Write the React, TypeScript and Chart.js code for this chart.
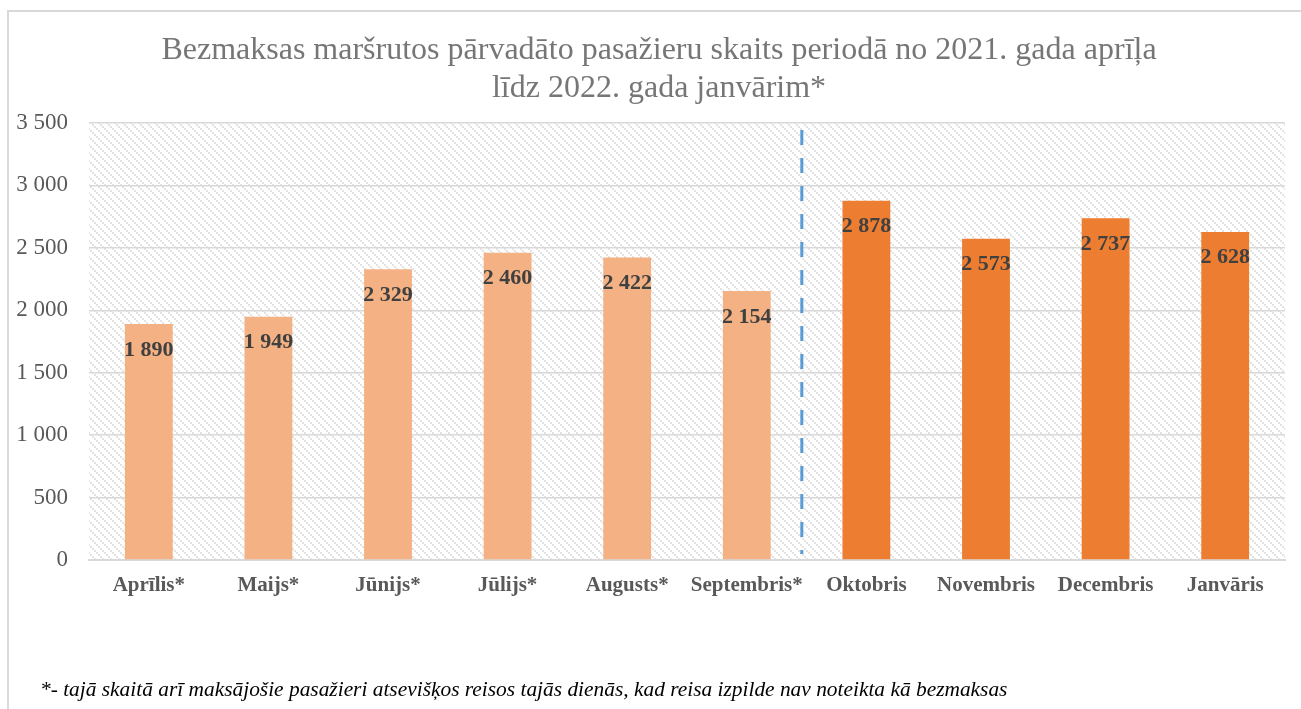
import React, { useEffect, useRef } from 'react';
import { Chart, registerables } from 'chart.js';

Chart.register(...registerables);

// ---------- data ----------
const categories: string[] = [
  'Aprīlis*', 'Maijs*', 'Jūnijs*', 'Jūlijs*', 'Augusts*',
  'Septembris*', 'Oktobris', 'Novembris', 'Decembris', 'Janvāris',
];
const passengers: number[] = [1890, 1949, 2329, 2460, 2422, 2154, 2878, 2573, 2737, 2628];
const partialMonth: boolean[] = [true, true, true, true, true, true, false, false, false, false];
const yMin = 0;
const yMax = 3500;
const yStep = 500;
const titleLines: string[] = [
  'Bezmaksas maršrutos pārvadāto pasažieru skaits periodā no 2021. gada aprīļa',
  'līdz 2022. gada janvārim*',
];
const footnote =
  '*- tajā skaitā arī maksājošie pasažieri atsevišķos reisos tajās dienās, kad reisa izpilde nav noteikta kā bezmaksas';
// divider between the partial months and the full months (category units)
const dividerPosition = 5.46;

// ---------- styles ----------
const SERIF = "'Liberation Serif', 'Times New Roman', serif";
const LIGHT_ORANGE = '#F4B183';
const ORANGE = '#ED7D31';
const GRID = '#d9d9d9';
const AXIS_TEXT = '#595959';

function fmt(n: number): string {
  return String(n).replace(/\B(?=(\d{3})+(?!\d))/g, ' ');
}

function makePattern(ctx: CanvasRenderingContext2D): CanvasPattern | string {
  const tile = document.createElement('canvas');
  tile.width = 8;
  tile.height = 8;
  const t = tile.getContext('2d');
  if (!t) return '#f4f4f4';
  t.fillStyle = '#ffffff';
  t.fillRect(0, 0, 8, 8);
  t.fillStyle = '#e3e3e3';
  for (let y = 0; y < 8; y += 2) {
    t.fillRect(y, y, 2, 2);
  }
  return ctx.createPattern(tile, 'repeat') || '#f4f4f4';
}

const backgroundPlugin = {
  id: 'bgPlugin',
  beforeDraw(chart: any) {
    const { ctx, chartArea } = chart;
    ctx.save();
    ctx.fillStyle = '#ffffff';
    ctx.fillRect(0, 0, chart.width, chart.height);
    // outer frame
    ctx.strokeStyle = '#d9d9d9';
    ctx.lineWidth = 2;
    ctx.strokeRect(8, 11, chart.width + 20, chart.height + 20);
    // hatched plot area
    ctx.fillStyle = makePattern(ctx);
    ctx.fillRect(chartArea.left, chartArea.top, chartArea.right - chartArea.left, chartArea.bottom - chartArea.top);
    ctx.restore();
  },
};

const textPlugin = {
  id: 'textPlugin',
  afterDraw(chart: any) {
    const { ctx } = chart;
    ctx.save();
    ctx.fillStyle = '#767676';
    ctx.font = `32px ${SERIF}`;
    ctx.textAlign = 'center';
    ctx.textBaseline = 'alphabetic';
    const cx = 659;
    ctx.fillText(titleLines[0], cx, 59);
    ctx.fillText(titleLines[1], cx, 97);

    ctx.fillStyle = '#000000';
    ctx.font = `italic 21.4px ${SERIF}`;
    ctx.textAlign = 'left';
    ctx.fillText(footnote, 40, 696);
    ctx.restore();
  },
};

const dividerPlugin = {
  id: 'dividerPlugin',
  afterDatasetsDraw(chart: any) {
    const { ctx, chartArea, scales } = chart;
    const x = scales.x.getPixelForValue(dividerPosition);
    ctx.save();
    ctx.strokeStyle = '#5B9BD5';
    ctx.lineWidth = 3;
    ctx.setLineDash([15, 13]);
    ctx.beginPath();
    ctx.moveTo(x, chartArea.top + 7);
    ctx.lineTo(x, chartArea.bottom - 6);
    ctx.stroke();
    ctx.restore();
  },
};

const labelPlugin = {
  id: 'labelPlugin',
  afterDatasetsDraw(chart: any) {
    const { ctx } = chart;
    const meta = chart.getDatasetMeta(0);
    ctx.save();
    ctx.fillStyle = '#404040';
    ctx.font = `bold 22px ${SERIF}`;
    ctx.textAlign = 'center';
    ctx.textBaseline = 'alphabetic';
    meta.data.forEach((bar: any, i: number) => {
      ctx.fillText(fmt(passengers[i]), bar.x, bar.y + 31.5);
    });
    ctx.restore();
  },
};

export default function App() {
  const canvasRef = useRef<HTMLCanvasElement | null>(null);

  useEffect(() => {
    const canvas = canvasRef.current;
    if (!canvas) return;
    const chart = new Chart(canvas, {
      type: 'bar',
      data: {
        labels: categories,
        datasets: [
          {
            data: passengers,
            backgroundColor: partialMonth.map((p) => (p ? LIGHT_ORANGE : ORANGE)),
            borderWidth: 0,
            barPercentage: 0.4,
            categoryPercentage: 1,
          },
        ],
      },
      options: {
        animation: false,
        responsive: false,
        devicePixelRatio: 1,
        layout: { padding: { top: 123, left: 0, right: 16, bottom: 89 } },
        plugins: {
          legend: { display: false },
          title: { display: false },
          tooltip: { enabled: false },
        },
        scales: {
          x: {
            grid: { display: false, drawTicks: false },
            border: { display: true, color: GRID, width: 2 },
            ticks: {
              color: AXIS_TEXT,
              font: { family: SERIF, size: 21, weight: 'bold' },
              padding: 13,
              maxRotation: 0,
              autoSkip: false,
            },
            afterFit(scale: any) {
              scale.height = 60;
            },
          },
          y: {
            min: yMin,
            max: yMax,
            ticks: {
              stepSize: yStep,
              color: AXIS_TEXT,
              font: { family: SERIF, size: 23 },
              padding: 21,
              callback: (v: any) => fmt(Number(v)),
            },
            grid: { color: GRID, lineWidth: 1.5, drawTicks: false },
            border: { display: false },
            afterFit(scale: any) {
              scale.width = 89;
            },
          },
        },
      },
      plugins: [backgroundPlugin, dividerPlugin, labelPlugin, textPlugin],
    });
    return () => chart.destroy();
  }, []);

  return (
    <div style={{ position: 'absolute', left: 0, top: 0, width: 1301, height: 709, overflow: 'hidden', background: '#fff' }}>
      <canvas ref={canvasRef} width={1301} height={709} />
    </div>
  );
}
